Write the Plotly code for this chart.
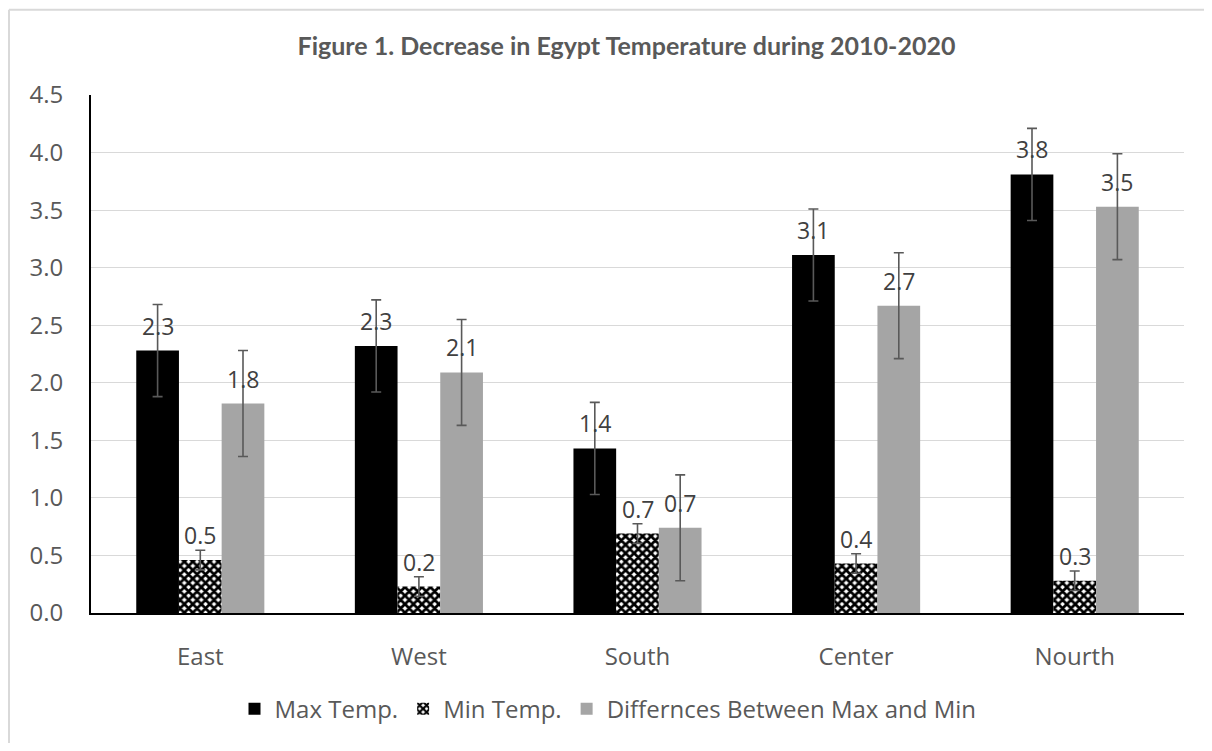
import plotly.graph_objects as go

categories = ["East", "West", "South", "Center", "Nourth"]
max_temp = [2.28, 2.32, 1.43, 3.11, 3.81]
min_temp = [0.46, 0.23, 0.69, 0.43, 0.28]
diff_temp = [1.82, 2.09, 0.74, 2.67, 3.53]
max_err = [0.40, 0.40, 0.40, 0.40, 0.40]
min_err = [0.085, 0.085, 0.085, 0.085, 0.085]
diff_err = [0.46, 0.46, 0.46, 0.46, 0.46]
y_ticks = [0.0, 0.5, 1.0, 1.5, 2.0, 2.5, 3.0, 3.5, 4.0, 4.5]
series_names = ["Max Temp.", "Min Temp.", "Differnces Between Max and Min"]

TFONT = "Lato"
FONT = "Open Sans"
TXT = "#595959"
LBL = "#404040"
FS = 24
LFS = 23

W, H = 1196, 735
L, R, T, B = 83, 20, 87, 125
pw, ph = W - L - R, H - T - B
BARGAP = 0.414
bar_px = pw / len(categories) * (1 - BARGAP) / 3

err_style = dict(type="data", color="#595959", thickness=1.6, width=5)

fig = go.Figure()
fig.add_trace(go.Bar(
    name=series_names[0], x=categories, y=max_temp,
    marker=dict(color="#000000", line=dict(width=0)),
    error_y=dict(array=max_err, **err_style),
))
fig.add_trace(go.Bar(
    name=series_names[1], x=categories, y=min_temp,
    marker=dict(color="#000000", line=dict(width=0),
                pattern=dict(shape="x", fgcolor="#000000", bgcolor="#ffffff",
                             size=6, solidity=0.7, fillmode="replace")),
    error_y=dict(array=min_err, **err_style),
))
fig.add_trace(go.Bar(
    name=series_names[2], x=categories, y=diff_temp,
    marker=dict(color="#A5A5A5", line=dict(width=0)),
    error_y=dict(array=diff_err, **err_style),
))

# data labels above each bar
for k, vals in enumerate([max_temp, min_temp, diff_temp]):
    for cat, v in zip(categories, vals):
        fig.add_annotation(x=cat, y=v, text=f"{v:.1f}", showarrow=False,
                           xshift=(k - 1) * bar_px, yshift=25, yanchor="middle",
                           font=dict(family=FONT, size=LFS, color=LBL))

fig.update_layout(
    width=W, height=H,
    margin=dict(l=L, r=R, t=T, b=B, pad=0),
    paper_bgcolor="white", plot_bgcolor="white",
    barmode="group", bargap=BARGAP, bargroupgap=0,
    title=dict(text="<b>Figure 1. Decrease in Egypt Temperature during 2010-2020</b>",
               x=618.5 / W, xanchor="center", y=1 - 38 / H, yanchor="middle",
               xref="container", yref="container",
               font=dict(family=TFONT, size=25, color=TXT)),
    font=dict(family=FONT, color=TXT),
    legend=dict(orientation="h", x=(600 - L) / pw, xanchor="center",
                y=(ph - (707 - T)) / ph, yanchor="middle",
                font=dict(family=FONT, size=FS, color=TXT), traceorder="normal",
                itemwidth=30, bgcolor="rgba(0,0,0,0)"),
    xaxis=dict(showgrid=False, showline=True, linecolor="#000000", linewidth=2,
               ticks="", tickfont=dict(family=FONT, size=FS, color=TXT),
               ticklabelstandoff=21),
    yaxis=dict(range=[0, 4.5], tickvals=y_ticks, tickformat=".1f",
               showgrid=True, gridcolor="#D9D9D9", gridwidth=1,
               showline=True, linecolor="#000000", linewidth=2,
               zeroline=False, ticks="",
               tickfont=dict(family=FONT, size=FS, color=TXT),
               ticklabelstandoff=21),
    shapes=[
        dict(type="line", xref="paper", yref="paper",
             x0=(1 - L) / pw, x1=(W + 20 - L) / pw, y0=(ph + T - 1) / ph, y1=(ph + T - 1) / ph,
             line=dict(color="#D9D9D9", width=2)),
        dict(type="line", xref="paper", yref="paper",
             x0=(1 - L) / pw, x1=(1 - L) / pw, y0=(ph + T - 1) / ph, y1=-(B + 20) / ph,
             line=dict(color="#D9D9D9", width=2)),
    ],
)

fig.write_html("out.html")
